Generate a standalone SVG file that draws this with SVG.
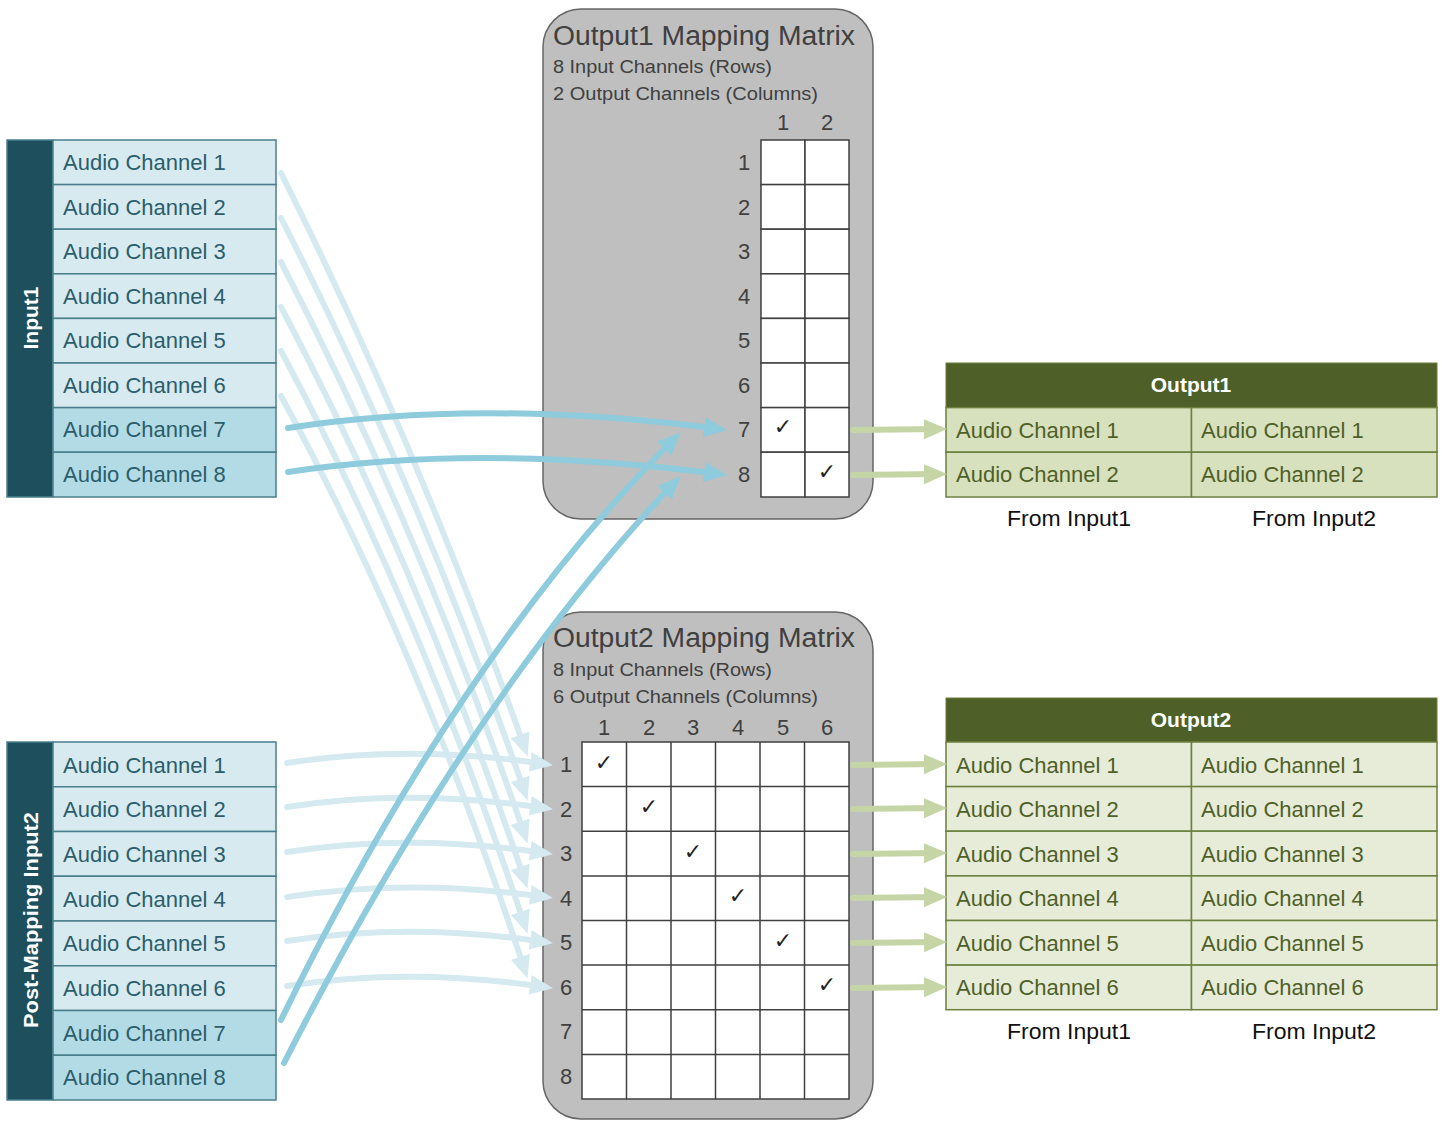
<svg xmlns="http://www.w3.org/2000/svg" width="1442" height="1121" viewBox="0 0 1442 1121">
<style>
  .bar{fill:#1e4f5c;stroke:#4a7f8c;stroke-width:1.5}
  .row{fill:#d6eaf0;stroke:#4a7f8c;stroke-width:1.5}
  .rowd{fill:#b2dbe5;stroke:#4a7f8c;stroke-width:1.5}
  .itxt{font-family:"Liberation Sans",Arial,sans-serif;font-size:22px;fill:#2b5d6b}
  .vt{font-family:"Liberation Sans",Arial,sans-serif;font-size:21px;font-weight:bold;fill:#ffffff}
  .mbox{fill:#bfbfbf;stroke:#666;stroke-width:1.5}
  .mt{font-family:"Liberation Sans",Arial,sans-serif;font-size:27px;fill:#404040}
  .ms{font-family:"Liberation Sans",Arial,sans-serif;font-size:18px;fill:#404040}
  .mn{font-family:"Liberation Sans",Arial,sans-serif;font-size:22px;fill:#404040;text-anchor:middle}
  .cell{fill:#ffffff;stroke:#404040;stroke-width:1.5}
  .chk{font-family:"DejaVu Sans",sans-serif;font-size:22px;fill:#222;text-anchor:middle}
  .ohead{fill:#4f5f28;stroke:#6b7f3f;stroke-width:1}
  .orow1{fill:#d8e1be;stroke:#6b7f3f;stroke-width:1.5}
  .orow2{fill:#e6ecd8;stroke:#6b7f3f;stroke-width:1.5}
  .oht{font-family:"Liberation Sans",Arial,sans-serif;font-size:21px;font-weight:bold;fill:#ffffff;text-anchor:middle}
  .otxt{font-family:"Liberation Sans",Arial,sans-serif;font-size:22px;fill:#4f5f28}
  .from{font-family:"Liberation Sans",Arial,sans-serif;font-size:22px;fill:#111;text-anchor:middle}
  .cl{fill:none;stroke:#d5eaf0;stroke-width:6;stroke-linecap:round}
  .cd{fill:none;stroke:#8ecbdc;stroke-width:6;stroke-linecap:round}
  .cg{fill:none;stroke:#c5d5a5;stroke-width:6;stroke-linecap:round}
</style>
<defs>
  <marker id="al" markerUnits="userSpaceOnUse" markerWidth="24" markerHeight="22" refX="15" refY="11" orient="auto"><path d="M0,1 L23,11 L0,21 z" fill="#d5eaf0"/></marker>
  <marker id="ad" markerUnits="userSpaceOnUse" markerWidth="24" markerHeight="22" refX="15" refY="11" orient="auto"><path d="M0,1 L23,11 L0,21 z" fill="#8ecbdc"/></marker>
  <marker id="ag" markerUnits="userSpaceOnUse" markerWidth="24" markerHeight="22" refX="15" refY="11" orient="auto"><path d="M0,1 L23,11 L0,21 z" fill="#c5d5a5"/></marker>
</defs>

<rect width="1442" height="1121" fill="#ffffff"/>

<!-- Input1 -->
<g id="input1">
  <rect class="bar" x="7" y="140" width="46" height="357"/>
  <text class="vt" transform="translate(38,318) rotate(-90)" text-anchor="middle">Input1</text>
  <rect class="row" x="53" y="140" width="223" height="44.6"/>
  <rect class="row" x="53" y="184.6" width="223" height="44.6"/>
  <rect class="row" x="53" y="229.2" width="223" height="44.6"/>
  <rect class="row" x="53" y="273.8" width="223" height="44.6"/>
  <rect class="row" x="53" y="318.4" width="223" height="44.6"/>
  <rect class="row" x="53" y="363" width="223" height="44.6"/>
  <rect class="rowd" x="53" y="407.6" width="223" height="44.6"/>
  <rect class="rowd" x="53" y="452.2" width="223" height="44.8"/>
  <text class="itxt" x="63" y="170">Audio Channel 1</text>
  <text class="itxt" x="63" y="214.5">Audio Channel 2</text>
  <text class="itxt" x="63" y="259">Audio Channel 3</text>
  <text class="itxt" x="63" y="303.5">Audio Channel 4</text>
  <text class="itxt" x="63" y="348">Audio Channel 5</text>
  <text class="itxt" x="63" y="392.5">Audio Channel 6</text>
  <text class="itxt" x="63" y="437">Audio Channel 7</text>
  <text class="itxt" x="63" y="481.5">Audio Channel 8</text>
</g>

<!-- Input2 -->
<g id="input2">
  <rect class="bar" x="7" y="742" width="46" height="358"/>
  <text class="vt" transform="translate(38,920) rotate(-90)" text-anchor="middle" textLength="216" lengthAdjust="spacingAndGlyphs">Post-Mapping Input2</text>
  <rect class="row" x="53" y="742" width="223" height="44.75"/>
  <rect class="row" x="53" y="786.75" width="223" height="44.75"/>
  <rect class="row" x="53" y="831.5" width="223" height="44.75"/>
  <rect class="row" x="53" y="876.25" width="223" height="44.75"/>
  <rect class="row" x="53" y="921" width="223" height="44.75"/>
  <rect class="row" x="53" y="965.75" width="223" height="44.75"/>
  <rect class="rowd" x="53" y="1010.5" width="223" height="44.75"/>
  <rect class="rowd" x="53" y="1055.25" width="223" height="44.75"/>
  <text class="itxt" x="63" y="772.5">Audio Channel 1</text>
  <text class="itxt" x="63" y="817">Audio Channel 2</text>
  <text class="itxt" x="63" y="861.5">Audio Channel 3</text>
  <text class="itxt" x="63" y="906.5">Audio Channel 4</text>
  <text class="itxt" x="63" y="951">Audio Channel 5</text>
  <text class="itxt" x="63" y="995.5">Audio Channel 6</text>
  <text class="itxt" x="63" y="1040.5">Audio Channel 7</text>
  <text class="itxt" x="63" y="1085">Audio Channel 8</text>
</g>

<!-- Output1 Mapping Matrix -->
<g id="matrix1">
  <rect class="mbox" x="543" y="9" width="330" height="510" rx="38"/>
  <text class="mt" x="553" y="45" textLength="302" lengthAdjust="spacingAndGlyphs">Output1 Mapping Matrix</text>
  <text class="ms" x="553" y="73" textLength="219" lengthAdjust="spacingAndGlyphs">8 Input Channels (Rows)</text>
  <text class="ms" x="553" y="100" textLength="265" lengthAdjust="spacingAndGlyphs">2 Output Channels (Columns)</text>
  <text class="mn" x="783" y="130">1</text>
  <text class="mn" x="827" y="130">2</text>
  <g>
    <rect class="cell" x="761" y="140" width="44" height="44.6"/><rect class="cell" x="805" y="140" width="44" height="44.6"/>
    <rect class="cell" x="761" y="184.6" width="44" height="44.6"/><rect class="cell" x="805" y="184.6" width="44" height="44.6"/>
    <rect class="cell" x="761" y="229.2" width="44" height="44.6"/><rect class="cell" x="805" y="229.2" width="44" height="44.6"/>
    <rect class="cell" x="761" y="273.8" width="44" height="44.6"/><rect class="cell" x="805" y="273.8" width="44" height="44.6"/>
    <rect class="cell" x="761" y="318.4" width="44" height="44.6"/><rect class="cell" x="805" y="318.4" width="44" height="44.6"/>
    <rect class="cell" x="761" y="363" width="44" height="44.6"/><rect class="cell" x="805" y="363" width="44" height="44.6"/>
    <rect class="cell" x="761" y="407.6" width="44" height="44.6"/><rect class="cell" x="805" y="407.6" width="44" height="44.6"/>
    <rect class="cell" x="761" y="452.2" width="44" height="44.8"/><rect class="cell" x="805" y="452.2" width="44" height="44.8"/>
  </g>
  <text class="mn" x="744" y="170">1</text>
  <text class="mn" x="744" y="214.5">2</text>
  <text class="mn" x="744" y="259">3</text>
  <text class="mn" x="744" y="303.5">4</text>
  <text class="mn" x="744" y="348">5</text>
  <text class="mn" x="744" y="392.5">6</text>
  <text class="mn" x="744" y="437">7</text>
  <text class="mn" x="744" y="481.5">8</text>
  <text class="chk" x="783" y="434">✓</text>
  <text class="chk" x="827" y="479">✓</text>
</g>

<!-- Output2 Mapping Matrix -->
<g id="matrix2">
  <rect class="mbox" x="543" y="612" width="330" height="507" rx="38"/>
  <text class="mt" x="553" y="647" textLength="302" lengthAdjust="spacingAndGlyphs">Output2 Mapping Matrix</text>
  <text class="ms" x="553" y="676" textLength="219" lengthAdjust="spacingAndGlyphs">8 Input Channels (Rows)</text>
  <text class="ms" x="553" y="703" textLength="265" lengthAdjust="spacingAndGlyphs">6 Output Channels (Columns)</text>
  <text class="mn" x="604" y="735">1</text>
  <text class="mn" x="649" y="735">2</text>
  <text class="mn" x="693" y="735">3</text>
  <text class="mn" x="738" y="735">4</text>
  <text class="mn" x="783" y="735">5</text>
  <text class="mn" x="827" y="735">6</text>
  <g fill="#ffffff" stroke="#404040" stroke-width="1.5">
    <rect x="582" y="742" width="267" height="357"/>
    <path d="M626.5,742V1099M671,742V1099M715.5,742V1099M760,742V1099M804.5,742V1099M582,786.6H849M582,831.2H849M582,875.9H849M582,920.5H849M582,965.1H849M582,1009.7H849M582,1054.4H849" fill="none"/>
  </g>
  <text class="mn" x="566" y="772">1</text>
  <text class="mn" x="566" y="816.5">2</text>
  <text class="mn" x="566" y="861">3</text>
  <text class="mn" x="566" y="905.5">4</text>
  <text class="mn" x="566" y="950">5</text>
  <text class="mn" x="566" y="994.5">6</text>
  <text class="mn" x="566" y="1039">7</text>
  <text class="mn" x="566" y="1084">8</text>
  <text class="chk" x="604" y="770">✓</text>
  <text class="chk" x="649" y="814">✓</text>
  <text class="chk" x="693" y="859">✓</text>
  <text class="chk" x="738" y="903">✓</text>
  <text class="chk" x="783" y="948">✓</text>
  <text class="chk" x="827" y="992">✓</text>
</g>

<!-- Output1 table -->
<g id="output1">
  <rect class="ohead" x="946" y="363" width="491" height="44.6"/>
  <text class="oht" x="1191" y="392">Output1</text>
  <rect class="orow1" x="946" y="407.6" width="245.5" height="44.6"/>
  <rect class="orow1" x="1191.5" y="407.6" width="245.5" height="44.6"/>
  <rect class="orow1" x="946" y="452.2" width="245.5" height="44.8"/>
  <rect class="orow1" x="1191.5" y="452.2" width="245.5" height="44.8"/>
  <text class="otxt" x="956" y="437.5">Audio Channel 1</text>
  <text class="otxt" x="1201" y="437.5">Audio Channel 1</text>
  <text class="otxt" x="956" y="482">Audio Channel 2</text>
  <text class="otxt" x="1201" y="482">Audio Channel 2</text>
  <text class="from" x="1069" y="526" textLength="124" lengthAdjust="spacingAndGlyphs">From Input1</text>
  <text class="from" x="1314" y="526" textLength="124" lengthAdjust="spacingAndGlyphs">From Input2</text>
</g>

<!-- Output2 table -->
<g id="output2">
  <rect class="ohead" x="946" y="698" width="491" height="44"/>
  <text class="oht" x="1191" y="727">Output2</text>
  <g>
    <rect class="orow2" x="946" y="742" width="245.5" height="44.6"/><rect class="orow2" x="1191.5" y="742" width="245.5" height="44.6"/>
    <rect class="orow2" x="946" y="786.6" width="245.5" height="44.6"/><rect class="orow2" x="1191.5" y="786.6" width="245.5" height="44.6"/>
    <rect class="orow2" x="946" y="831.2" width="245.5" height="44.7"/><rect class="orow2" x="1191.5" y="831.2" width="245.5" height="44.7"/>
    <rect class="orow2" x="946" y="875.9" width="245.5" height="44.6"/><rect class="orow2" x="1191.5" y="875.9" width="245.5" height="44.6"/>
    <rect class="orow2" x="946" y="920.5" width="245.5" height="44.6"/><rect class="orow2" x="1191.5" y="920.5" width="245.5" height="44.6"/>
    <rect class="orow2" x="946" y="965.1" width="245.5" height="44.6"/><rect class="orow2" x="1191.5" y="965.1" width="245.5" height="44.6"/>
  </g>
  <text class="otxt" x="956" y="772.5">Audio Channel 1</text><text class="otxt" x="1201" y="772.5">Audio Channel 1</text>
  <text class="otxt" x="956" y="817">Audio Channel 2</text><text class="otxt" x="1201" y="817">Audio Channel 2</text>
  <text class="otxt" x="956" y="861.5">Audio Channel 3</text><text class="otxt" x="1201" y="861.5">Audio Channel 3</text>
  <text class="otxt" x="956" y="906">Audio Channel 4</text><text class="otxt" x="1201" y="906">Audio Channel 4</text>
  <text class="otxt" x="956" y="950.5">Audio Channel 5</text><text class="otxt" x="1201" y="950.5">Audio Channel 5</text>
  <text class="otxt" x="956" y="995">Audio Channel 6</text><text class="otxt" x="1201" y="995">Audio Channel 6</text>
  <text class="from" x="1069" y="1039" textLength="124" lengthAdjust="spacingAndGlyphs">From Input1</text>
  <text class="from" x="1314" y="1039" textLength="124" lengthAdjust="spacingAndGlyphs">From Input2</text>
</g>

<!-- Connectors -->
<g id="connectors">
  <path class="cl" marker-end="url(#al)" d="M287,763 Q410,744 545,764"/>
  <path class="cl" marker-end="url(#al)" d="M287,807 Q410,788 545,808"/>
  <path class="cl" marker-end="url(#al)" d="M287,852 Q410,833 545,853"/>
  <path class="cl" marker-end="url(#al)" d="M287,897 Q410,878 545,897"/>
  <path class="cl" marker-end="url(#al)" d="M287,941 Q410,922 545,942"/>
  <path class="cl" marker-end="url(#al)" d="M287,986 Q410,967 545,987"/>
  <path class="cl" marker-end="url(#al)" d="M281,173 Q420,451 525,749"/>
  <path class="cl" marker-end="url(#al)" d="M281,218 Q420,490 525,793"/>
  <path class="cl" marker-end="url(#al)" d="M281,262 Q420,530 525,836"/>
  <path class="cl" marker-end="url(#al)" d="M281,307 Q420,570 525,881"/>
  <path class="cl" marker-end="url(#al)" d="M281,351 Q420,610 525,926"/>
  <path class="cl" marker-end="url(#al)" d="M281,396 Q420,650 525,971"/>
  <path class="cd" marker-end="url(#ad)" d="M281,1020 Q460,653 675,438"/>
  <path class="cd" marker-end="url(#ad)" d="M284,1063 Q470,698 675,482"/>
  <path class="cd" marker-end="url(#ad)" d="M288,428 Q480,398 719,429"/>
  <path class="cd" marker-end="url(#ad)" d="M288,472 Q480,443 719,474"/>
  <path class="cg" marker-end="url(#ag)" d="M853,430 L939,429"/>
  <path class="cg" marker-end="url(#ag)" d="M853,475 L939,474"/>
  <path class="cg" marker-end="url(#ag)" d="M853,765 L939,764"/>
  <path class="cg" marker-end="url(#ag)" d="M853,809 L939,808"/>
  <path class="cg" marker-end="url(#ag)" d="M853,854 L939,853"/>
  <path class="cg" marker-end="url(#ag)" d="M853,898 L939,897"/>
  <path class="cg" marker-end="url(#ag)" d="M853,943 L939,942"/>
  <path class="cg" marker-end="url(#ag)" d="M853,988 L939,987"/>
</g>
</svg>
